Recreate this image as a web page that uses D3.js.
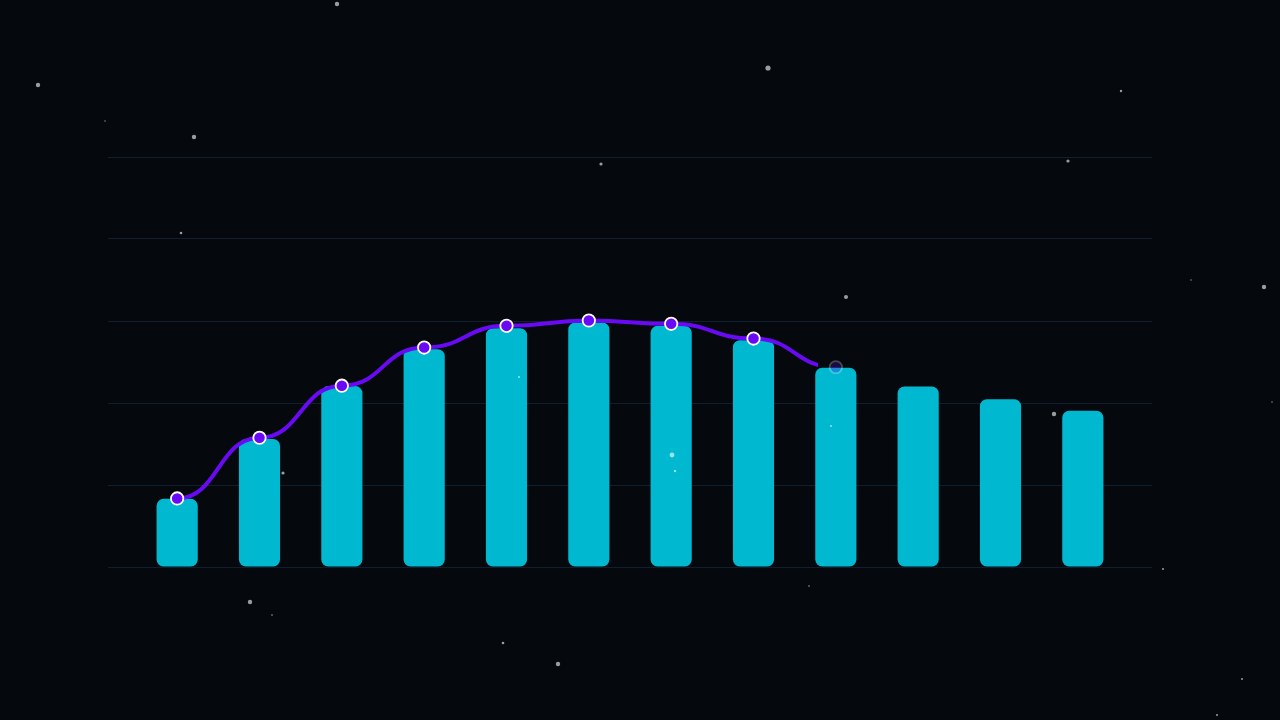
<!DOCTYPE html>
<html><head><meta charset="utf-8">
<script src="https://cdn.jsdelivr.net/npm/d3@7"></script>
<style>html,body{margin:0;padding:0;background:#05090e;overflow:hidden}svg{display:block}</style>
</head><body>
<svg id="c" width="1280" height="720"></svg>
<script>
const categories = ["1","2","3","4","5","6","7","8","9","10","11","12"];
const barValues = [16.5, 31.1, 44.0, 53.0, 58.1, 59.5, 58.7, 55.2, 48.5, 43.9, 40.8, 38.0];
const lineValues = [16.6, 31.4, 44.1, 53.4, 58.7, 60.0, 59.2, 55.6, 48.6];
const yTicks = [0, 20, 40, 60, 80, 100];
const starX = [337, 38, 105, 194, 181, 601, 768, 1121, 1068, 846, 1191, 1264, 1272, 1054, 283, 519, 672, 675, 831, 1163, 809, 250, 272, 503, 558, 1242, 1217];
const starY = [4, 85, 121, 137, 233, 164, 68, 91, 161, 297, 280, 287, 402, 414, 473, 377, 455, 471, 426, 569, 586, 602, 615, 643, 664, 679, 715];
const starR = [2.2, 2.2, 0.7, 2.2, 1.3, 1.6, 2.6, 1.2, 1.6, 2, 0.7, 2.2, 0.7, 2.2, 1.6, 1, 2.4, 1.2, 1, 1, 0.8, 2.2, 0.8, 1.3, 2.2, 1, 1];

const svg = d3.select("#c");
svg.append("rect").attr("width",1280).attr("height",720).attr("fill","#05090e");

const x = d3.scaleBand().domain(categories).range([136, 1124]).paddingInner(0.5).paddingOuter(0.25);
const y = d3.scaleLinear().domain([0, 100]).range([566.5, 156.5]);

// gridlines
svg.append("g").selectAll("line").data(yTicks).join("line")
  .attr("x1", 108).attr("x2", 1152)
  .attr("y1", d => Math.round(y(d)) + 0.5).attr("y2", d => Math.round(y(d)) + 0.5)
  .attr("stroke", "#0e2030").attr("stroke-width", 1);

// bars
svg.append("g").selectAll("path").data(barValues).join("path")
  .attr("fill", "#00b8d0")
  .attr("d", (d, i) => {
    const x0 = x(categories[i]), w = x.bandwidth(), y0 = y(d), y1 = y(0), r = 7;
    const p = d3.path();
    p.moveTo(x0 + r, y0);
    p.lineTo(x0 + w - r, y0);
    p.arcTo(x0 + w, y0, x0 + w, y0 + r, r);
    p.lineTo(x0 + w, y1 - r);
    p.arcTo(x0 + w, y1, x0 + w - r, y1, r);
    p.lineTo(x0 + r, y1);
    p.arcTo(x0, y1, x0, y1 - r, r);
    p.lineTo(x0, y0 + r);
    p.arcTo(x0, y0, x0 + r, y0, r);
    p.closePath();
    return p.toString();
  });

// line (partially drawn)
const cx = i => x(categories[i]) + x.bandwidth() / 2;
svg.append("defs").append("clipPath").attr("id", "lc")
  .append("rect").attr("x", 0).attr("y", 0).attr("width", 818).attr("height", 720);
const line = d3.line().x((d, i) => cx(i)).y(d => y(d)).curve(d3.curveBumpX);
svg.append("path").datum(lineValues)
  .attr("clip-path", "url(#lc)")
  .attr("fill", "none").attr("stroke", "#6a0af5").attr("stroke-width", 4)
  .attr("stroke-linecap", "round")
  .attr("d", line);

// dots
svg.append("g").selectAll("circle").data(lineValues).join("circle")
  .attr("cx", (d, i) => cx(i)).attr("cy", d => y(d)).attr("r", 6.2)
  .attr("fill", "#6a0af5").attr("stroke", "#ffffff").attr("stroke-width", 1.8)
  .attr("opacity", (d, i) => i === lineValues.length - 1 ? 0.25 : 1);

// stars
svg.append("g").selectAll("circle").data(starX).join("circle")
  .attr("cx", d => d).attr("cy", (d, i) => starY[i]).attr("r", (d, i) => starR[i])
  .attr("fill", "#ffffff").attr("opacity", 0.6);
</script>
</body></html>
